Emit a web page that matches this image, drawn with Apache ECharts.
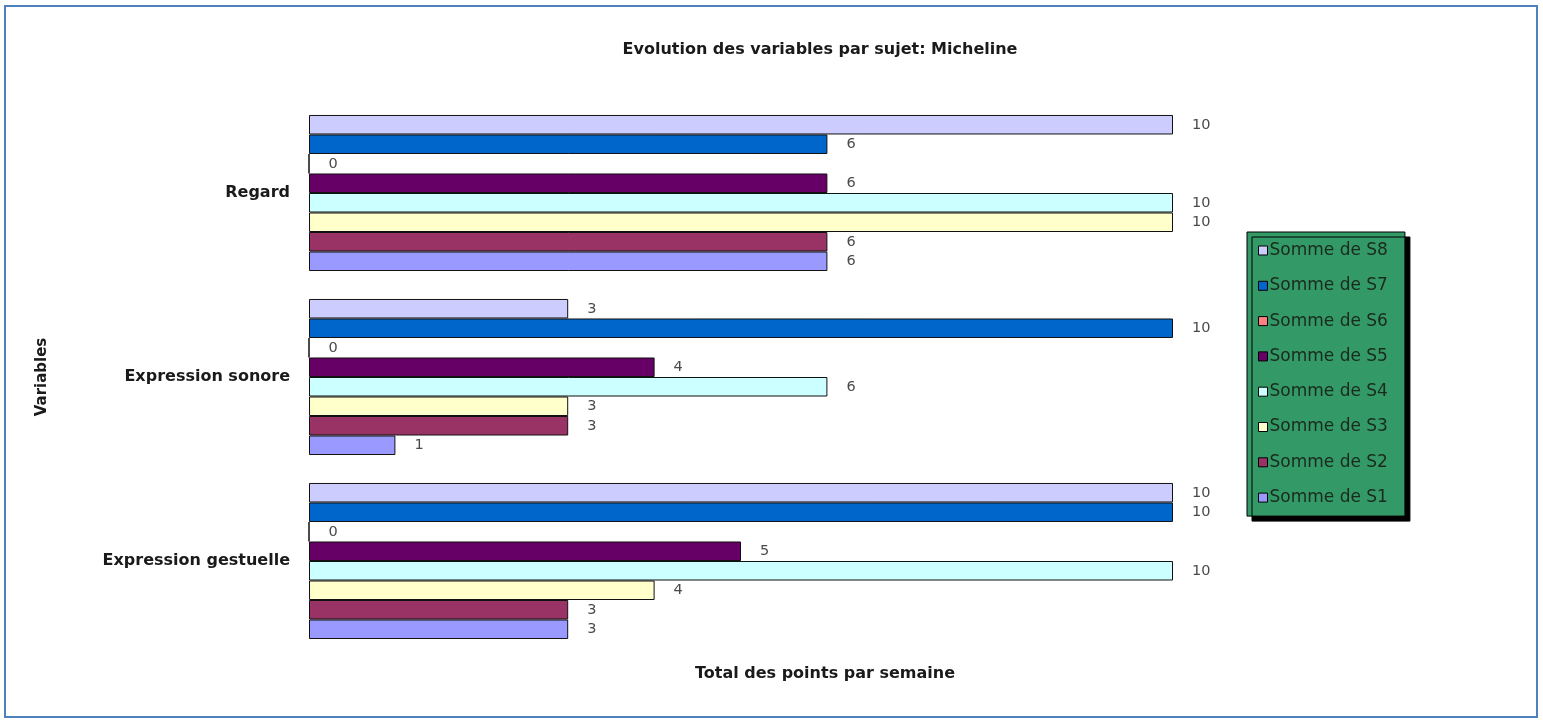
<!DOCTYPE html>
<html>
<head>
<meta charset="utf-8">
<script src="https://cdn.jsdelivr.net/npm/echarts@6/dist/echarts.min.js"></script>
<style>
html,body{margin:0;padding:0;background:#fff;}
#chart{width:1543px;height:720px;}
</style>
</head>
<body>
<div id="chart"></div>
<script>
const categories = ['Regard', 'Expression sonore', 'Expression gestuelle'];
const seriesNames = ['Somme de S8', 'Somme de S7', 'Somme de S6', 'Somme de S5', 'Somme de S4', 'Somme de S3', 'Somme de S2', 'Somme de S1'];
const S8 = [10, 3, 10];
const S7 = [6, 10, 10];
const S6 = [0, 0, 0];
const S5 = [6, 4, 5];
const S4 = [10, 6, 10];
const S3 = [10, 3, 4];
const S2 = [6, 3, 3];
const S1 = [6, 1, 3];
const seriesValues = [S8, S7, S6, S5, S4, S3, S2, S1];
const colors = ['#CCCCFF', '#0066CC', '#FF8080', '#660066', '#CCFFFF', '#FFFFCC', '#993366', '#9999FF'];

const FONT = '"DejaVu Sans", "Liberation Sans", Arial, sans-serif';
const chart = echarts.init(document.getElementById('chart'));
const series = seriesNames.map((name, i) => ({
  name: name,
  type: 'bar',
  data: seriesValues[i],
  barGap: '0%',
  barCategoryGap: '15.2%',
  itemStyle: { color: colors[i], borderColor: '#111', borderWidth: 1 },
  label: {
    show: true, position: 'right', distance: 19,
    color: '#4a4a4a', fontSize: 14.5, fontFamily: FONT
  }
}));

chart.setOption({
  animation: false,
  backgroundColor: '#fff',
  title: [
    { text: 'Evolution des variables par sujet: Micheline', left: 815, top: 37, textAlign: 'center',
      textStyle: { fontSize: 16, fontWeight: 'bold', color: '#1a1a1a', fontFamily: FONT } },
    { text: 'Total des points par semaine', left: 820, top: 661, textAlign: 'center',
      textStyle: { fontSize: 16, fontWeight: 'bold', color: '#1a1a1a', fontFamily: FONT } }
  ],
  graphic: [
    { type: 'rect', shape: { x: 5, y: 6, width: 1532, height: 711 }, style: { fill: 'none', stroke: '#4f81bd', lineWidth: 2 }, silent: true }
  ],
  legend: {
    orient: 'vertical',
    left: 1247, top: 232,
    data: seriesNames,
    backgroundColor: '#339966',
    borderColor: '#000', borderWidth: 1,
    shadowColor: '#000', shadowOffsetX: 5, shadowOffsetY: 5, shadowBlur: 0,
    padding: [10, 17, 10, 11],
    itemWidth: 9, itemHeight: 9, itemGap: 18.3,
    icon: 'rect',
    itemStyle: { borderColor: '#000', borderWidth: 1 },
    textStyle: { color: '#1a2a1e', fontSize: 17, padding: [0,0,0,-3], fontFamily: FONT },
    selectedMode: false
  },
  grid: { left: 309, right: 370, top: 101, bottom: 67, containLabel: false },
  xAxis: {
    type: 'value', min: 0, max: 10,
    axisLine: { show: false }, axisTick: { show: false }, axisLabel: { show: false }, splitLine: { show: false }
  },
  yAxis: {
    type: 'category', data: categories, inverse: true,
    axisLine: { show: false }, axisTick: { show: false },
    axisLabel: { margin: 19, fontSize: 16, fontWeight: 'bold', color: '#1a1a1a', fontFamily: FONT },
    name: 'Variables', nameLocation: 'middle', nameRotate: 90, nameGap: 259,
    nameTextStyle: { fontSize: 15, fontWeight: 'bold', color: '#1a1a1a', fontFamily: FONT }
  },
  series: series
});
</script>
</body>
</html>
